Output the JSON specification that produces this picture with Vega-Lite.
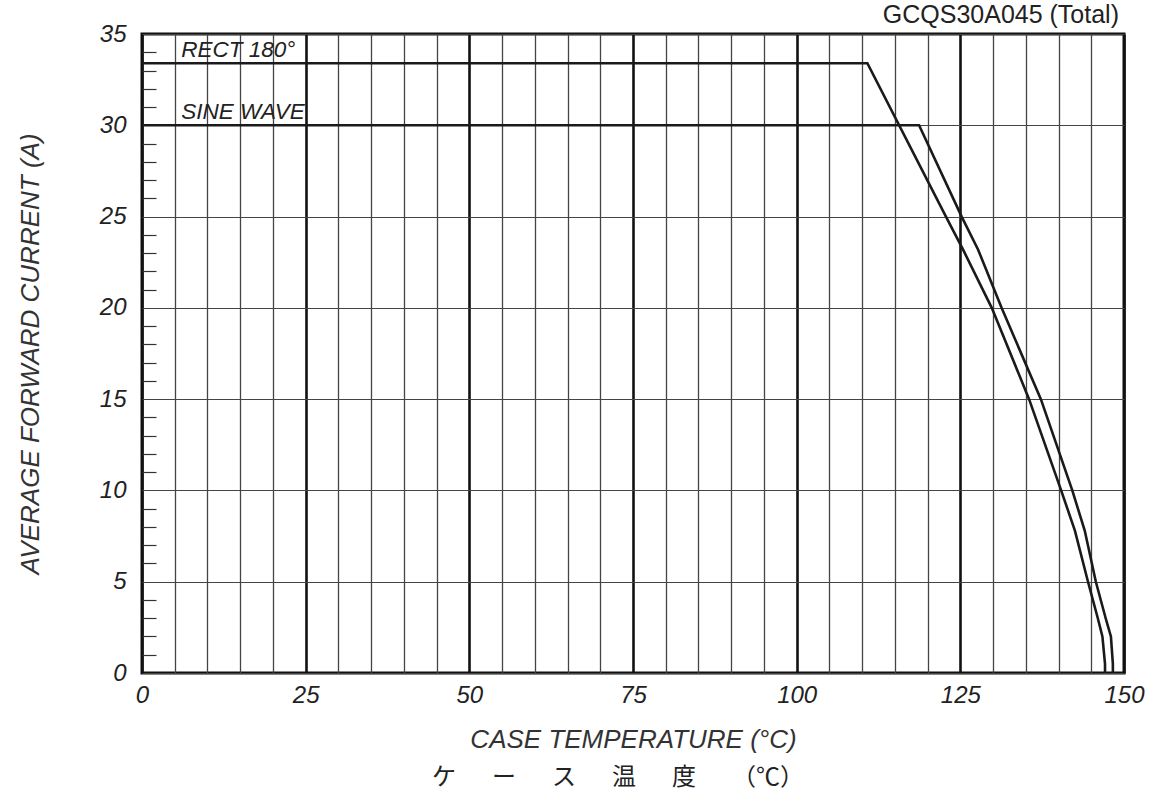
{
  "$schema": "https://vega.github.io/schema/vega-lite/v6.json",
  "width": 982,
  "height": 639,
  "autosize": {"type": "none"},
  "padding": {"left": 142, "top": 34, "right": 36, "bottom": 130},
  "background": "white",
  "title": {
    "text": "ケ\u3000\u2002ー\u3000\u2002ス\u3000\u2002温\u3000\u2002度\u3000\u2002（℃）",
    "orient": "bottom",
    "anchor": "middle",
    "font": "Noto Sans CJK JP",
    "fontSize": 24,
    "fontWeight": "normal",
    "color": "#222",
    "offset": 14,
    "dx": -15
  },
  "config": {
    "view": {"stroke": "#111", "strokeWidth": 3},
    "font": "Liberation Sans"
  },
  "datasets": {
    "curves": [
      {"series": "RECT 180°", "temp": 0, "amp": 33.4},
      {"series": "RECT 180°", "temp": 110.8, "amp": 33.4},
      {"series": "RECT 180°", "temp": 122.8, "amp": 25},
      {"series": "RECT 180°", "temp": 125.4, "amp": 23.2},
      {"series": "RECT 180°", "temp": 129.8, "amp": 20},
      {"series": "RECT 180°", "temp": 135.5, "amp": 15},
      {"series": "RECT 180°", "temp": 140.4, "amp": 10},
      {"series": "RECT 180°", "temp": 142.5, "amp": 7.8},
      {"series": "RECT 180°", "temp": 144.5, "amp": 5},
      {"series": "RECT 180°", "temp": 146.0, "amp": 3},
      {"series": "RECT 180°", "temp": 146.7, "amp": 2},
      {"series": "RECT 180°", "temp": 147.1, "amp": 0.5},
      {"series": "RECT 180°", "temp": 147.1, "amp": 0},
      {"series": "SINE WAVE", "temp": 0, "amp": 30},
      {"series": "SINE WAVE", "temp": 118.7, "amp": 30},
      {"series": "SINE WAVE", "temp": 125.2, "amp": 25},
      {"series": "SINE WAVE", "temp": 127.7, "amp": 23.2},
      {"series": "SINE WAVE", "temp": 131.3, "amp": 20},
      {"series": "SINE WAVE", "temp": 137.3, "amp": 15},
      {"series": "SINE WAVE", "temp": 142.1, "amp": 10},
      {"series": "SINE WAVE", "temp": 144.0, "amp": 7.8},
      {"series": "SINE WAVE", "temp": 145.7, "amp": 5},
      {"series": "SINE WAVE", "temp": 147.2, "amp": 3},
      {"series": "SINE WAVE", "temp": 148.0, "amp": 2},
      {"series": "SINE WAVE", "temp": 148.3, "amp": 0.5},
      {"series": "SINE WAVE", "temp": 148.3, "amp": 0}
    ],
    "labels": [
      {"label": "RECT 180°", "temp": 6, "amp": 33.4},
      {"label": "SINE WAVE", "temp": 6, "amp": 30}
    ],
    "header": [
      {"note": "GCQS30A045 (Total)"}
    ]
  },
  "layer": [
    {
      "data": {"name": "curves"},
      "mark": {"type": "line", "color": "#1a1a1a", "strokeWidth": 2.6, "clip": true},
      "encoding": {
        "x": {
          "field": "temp",
          "type": "quantitative",
          "scale": {"domain": [0, 150], "nice": false, "zero": false},
          "axis": {
            "values": [0, 5, 10, 15, 20, 25, 30, 35, 40, 45, 50, 55, 60, 65, 70, 75, 80, 85, 90, 95, 100, 105, 110, 115, 120, 125, 130, 135, 140, 145, 150],
            "tickCount": 200,
            "format": "d",
            "title": "CASE TEMPERATURE (°C)",
            "labelExpr": "datum.value % 25 === 0 ? datum.label : ''",
            "grid": true,
            "gridWidth": {"expr": "datum.value % 25 === 0 ? 2.6 : 1.3"},
            "gridColor": {"expr": "datum.value % 25 === 0 ? '#111' : '#444'"},
            "ticks": false,
            "domain": false,
            "labelFont": "Liberation Sans",
            "labelFontSize": 24,
            "labelFontStyle": "italic",
            "labelColor": "#222",
            "labelPadding": 10,
            "labelFlush": false,
            "labelOverlap": false,
            "titleFont": "Liberation Sans",
            "titleFontSize": 26,
            "titleFontStyle": "italic",
            "titleFontWeight": "normal",
            "titleColor": "#333",
            "titlePadding": 19
          }
        },
        "y": {
          "field": "amp",
          "type": "quantitative",
          "scale": {"domain": [0, 35], "nice": false, "zero": false},
          "axis": {
            "values": [0, 1, 2, 3, 4, 5, 6, 7, 8, 9, 10, 11, 12, 13, 14, 15, 16, 17, 18, 19, 20, 21, 22, 23, 24, 25, 26, 27, 28, 29, 30, 31, 32, 33, 34, 35],
            "tickCount": 200,
            "format": "d",
            "title": "AVERAGE FORWARD CURRENT (A)",
            "labelExpr": "datum.value % 5 === 0 ? datum.label : ''",
            "grid": true,
            "gridWidth": 1.1,
            "gridColor": "#444",
            "gridOpacity": {"expr": "datum.value % 5 === 0 ? 1 : 0"},
            "ticks": true,
            "tickSize": -14,
            "tickWidth": 1.2,
            "tickColor": "#333",
            "tickOpacity": {"expr": "datum.value % 5 === 0 ? 0 : 1"},
            "domain": false,
            "labelFont": "Liberation Sans",
            "labelFontSize": 24,
            "labelFontStyle": "italic",
            "labelColor": "#222",
            "labelPadding": 30,
            "labelFlush": false,
            "labelOverlap": false,
            "titleFont": "Liberation Sans",
            "titleFontSize": 26,
            "titleFontStyle": "italic",
            "titleFontWeight": "normal",
            "titleColor": "#333",
            "titlePadding": 56
          }
        },
        "detail": {"field": "series"}
      }
    },
    {
      "data": {"name": "labels"},
      "mark": {"type": "text", "align": "left", "baseline": "alphabetic", "dy": -6, "font": "Liberation Sans", "fontSize": 22.5, "fontStyle": "italic", "color": "#222"},
      "encoding": {
        "x": {"field": "temp", "type": "quantitative"},
        "y": {"field": "amp", "type": "quantitative"},
        "text": {"field": "label"}
      }
    },
    {
      "data": {"name": "header"},
      "mark": {"type": "text", "align": "right", "baseline": "alphabetic", "dy": -11, "dx": -5, "font": "Liberation Sans", "fontSize": 25, "color": "#222"},
      "encoding": {
        "x": {"datum": 150, "type": "quantitative"},
        "y": {"datum": 35, "type": "quantitative"},
        "text": {"field": "note"}
      }
    }
  ]
}
